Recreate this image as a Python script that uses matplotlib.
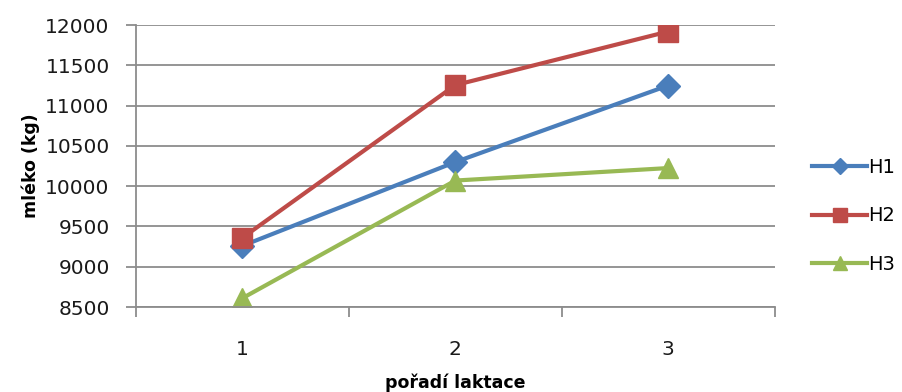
import matplotlib
matplotlib.use("Agg")
import matplotlib.pyplot as plt
from matplotlib.ticker import FixedLocator

# milk yield (kg) by lactation order
laktace = [1, 2, 3]
h1 = [9260, 10300, 11250]
h2 = [9360, 11255, 11920]
h3 = [8610, 10070, 10225]
y_ticks = [8500, 9000, 9500, 10000, 10500, 11000, 11500, 12000]

plt.rcParams["font.family"] = ["DejaVu Sans"]

fig = plt.figure(figsize=(9.02, 3.92), dpi=100)
ax = fig.add_axes([0.1508, 0.2168, 0.708, 0.7192])

grid_c = "#8c8c8c"
ax.plot(laktace, h1, color="#4a7ebb", lw=3, marker="D", ms=12, label="H1")
ax.plot(laktace, h2, color="#be4b48", lw=3, marker="s", ms=14, label="H2")
ax.plot(laktace, h3, color="#98b954", lw=3, marker="^", ms=14, label="H3")

ax.set_xlim(0.5, 3.5)
ax.set_ylim(8500, 12000)
ax.set_yticks(y_ticks)
ax.set_xticks(laktace)
ax.xaxis.set_minor_locator(FixedLocator([0.5, 1.5, 2.5, 3.5]))
ax.yaxis.grid(True, color=grid_c, lw=1.3)
ax.set_axisbelow(True)

for s in ["top", "right"]:
    ax.spines[s].set_visible(False)
ax.spines["left"].set_color(grid_c)
ax.spines["bottom"].set_color(grid_c)
ax.spines["left"].set_linewidth(1.3)
ax.spines["bottom"].set_linewidth(1.3)

ax.tick_params(axis="y", length=7, width=1.3, color=grid_c, pad=12,
               labelsize=14.5, labelcolor="#1a1a1a")
ax.tick_params(axis="x", which="major", length=0, pad=24,
               labelsize=14.5, labelcolor="#1a1a1a")
ax.tick_params(axis="x", which="minor", length=7, width=1.3, color=grid_c)

ax.set_ylabel("mléko (kg)", fontsize=12.5, fontweight="bold", labelpad=4)
ax.set_xlabel("pořadí laktace", fontsize=12.5, fontweight="bold", labelpad=10)

ax.legend(loc="center left", bbox_to_anchor=(1.059, 0.323), frameon=False,
          fontsize=14, handlelength=2.8, handletextpad=0.05,
          labelspacing=1.5, markerscale=0.7, borderpad=0, borderaxespad=0)

fig.savefig("out.png", dpi=100)
